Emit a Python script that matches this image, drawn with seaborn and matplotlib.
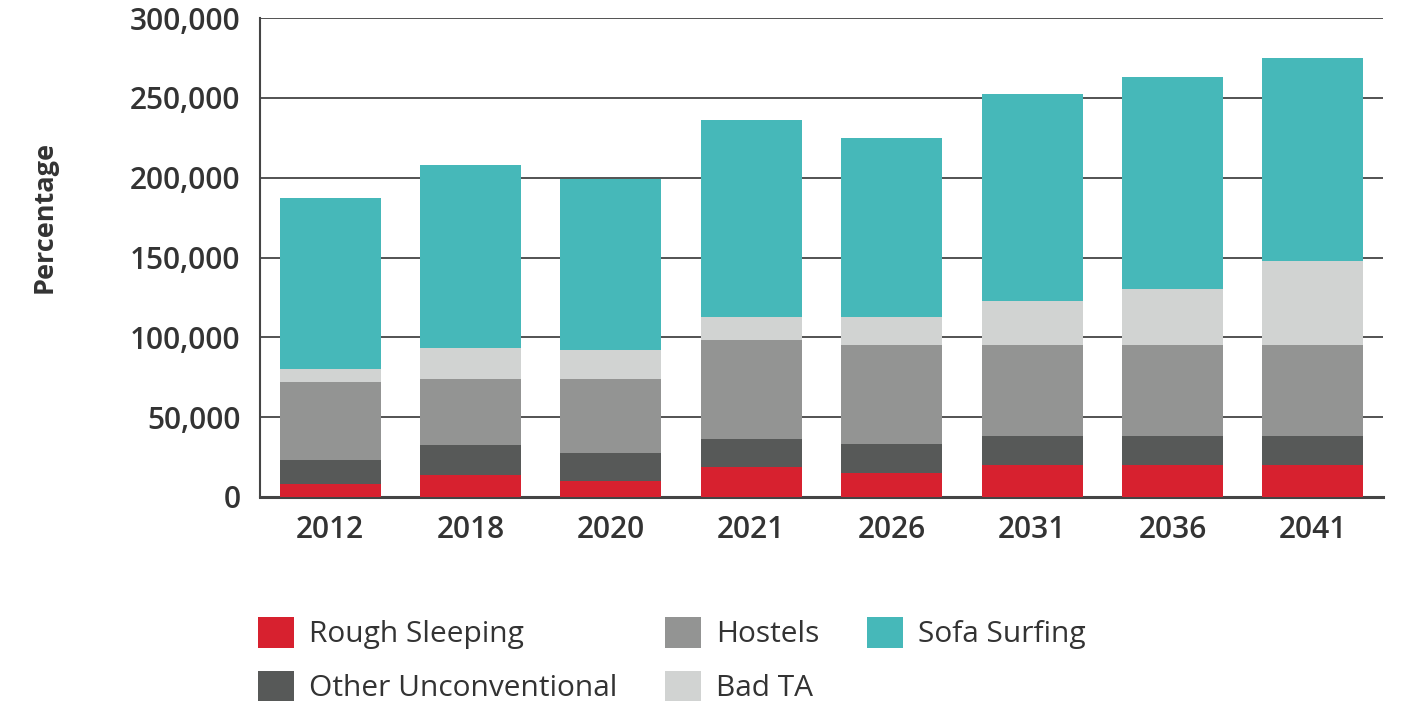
import matplotlib
matplotlib.use("Agg")
import matplotlib.pyplot as plt
import seaborn as sns
import pandas as pd
import numpy as np
from matplotlib.patches import Patch
from matplotlib.ticker import FuncFormatter, FixedLocator

years = ["2012", "2018", "2020", "2021", "2026", "2031", "2036", "2041"]
rough_sleeping = [8000, 13500, 10000, 19000, 15000, 20000, 20000, 20000]
other_unconventional = [15000, 19000, 17500, 17500, 18000, 18500, 18500, 18500]
hostels = [49000, 41500, 46500, 62000, 62500, 57000, 57000, 57000]
bad_ta = [8000, 19500, 18000, 14500, 17500, 27000, 35000, 52500]
sofa_surfing = [107000, 114500, 107000, 123000, 112000, 130000, 132500, 127000]

series_names = ["Rough Sleeping", "Other Unconventional", "Hostels", "Bad TA", "Sofa Surfing"]
series_vals = [rough_sleeping, other_unconventional, hostels, bad_ta, sofa_surfing]
colors = ["#D7212F", "#575958", "#939493", "#D1D3D2", "#46B8B9"]

sns.set_theme(style="white")
plt.rcParams["font.family"] = ["Open Sans", "DejaVu Sans"]

fig = plt.figure(figsize=(14.04, 7.06), dpi=100)
ax = fig.add_axes([260 / 1404, 1 - 497 / 706, (1383 - 260) / 1404, (497 - 18) / 706])

cum = np.zeros(len(years))
cums = []
for v in series_vals:
    cum = cum + np.array(v)
    cums.append(cum.copy())

# draw from the top (total) down so that lower segments overlay
for name, c, col in reversed(list(zip(series_names, cums, colors))):
    d = pd.DataFrame({"year": years, "value": c})
    sns.barplot(data=d, x="year", y="value", color=col, width=0.72,
                saturation=1, ax=ax, zorder=3, linewidth=0, errorbar=None)

ax.set_xlim(-0.5, 7.5)
ax.set_ylim(0, 300000)
ax.set_yticks(np.arange(0, 300001, 50000))
ax.yaxis.set_major_formatter(FuncFormatter(lambda v, p: f"{int(v):,}"))
ax.grid(axis="y", color="#444444", linewidth=1.3, zorder=0)
ax.set_axisbelow(True)

for s in ["top", "right"]:
    ax.spines[s].set_visible(False)
ax.spines["left"].set_color("#444444")
ax.spines["left"].set_linewidth(1.5)
ax.spines["bottom"].set_color("#444444")
ax.spines["bottom"].set_linewidth(2.2)

ax.tick_params(axis="y", length=0, pad=14, labelsize=21.5, labelcolor="#333333")
ax.tick_params(axis="x", which="major", length=0, pad=13, labelsize=21.5, labelcolor="#333333")
ax.xaxis.set_minor_locator(FixedLocator(np.arange(-0.5, 7.6, 1.0)))
ax.tick_params(axis="x", which="minor", direction="in", length=7, width=2, color="#444444")
for lab in ax.get_xticklabels() + ax.get_yticklabels():
    lab.set_fontweight("semibold")

ax.set_xlabel("")
ax.set_ylabel("Percentage", fontsize=19.5, fontweight="bold", color="#333333")
ax.yaxis.set_label_coords(-0.180, 0.585)

handles = [Patch(facecolor=c, edgecolor="none", label=n) for n, c in zip(series_names, colors)]
fig.legend(handles=handles, labels=series_names, loc="upper left",
           bbox_to_anchor=(252 / 1404, 1 - 611 / 706), ncol=3, frameon=False,
           fontsize=21.5, handlelength=1.2, handleheight=1.2, handletextpad=0.5,
           columnspacing=1.6, labelspacing=0.72, borderaxespad=0, borderpad=0.2,
           labelcolor="#333333")

fig.savefig("out.png", dpi=100)
